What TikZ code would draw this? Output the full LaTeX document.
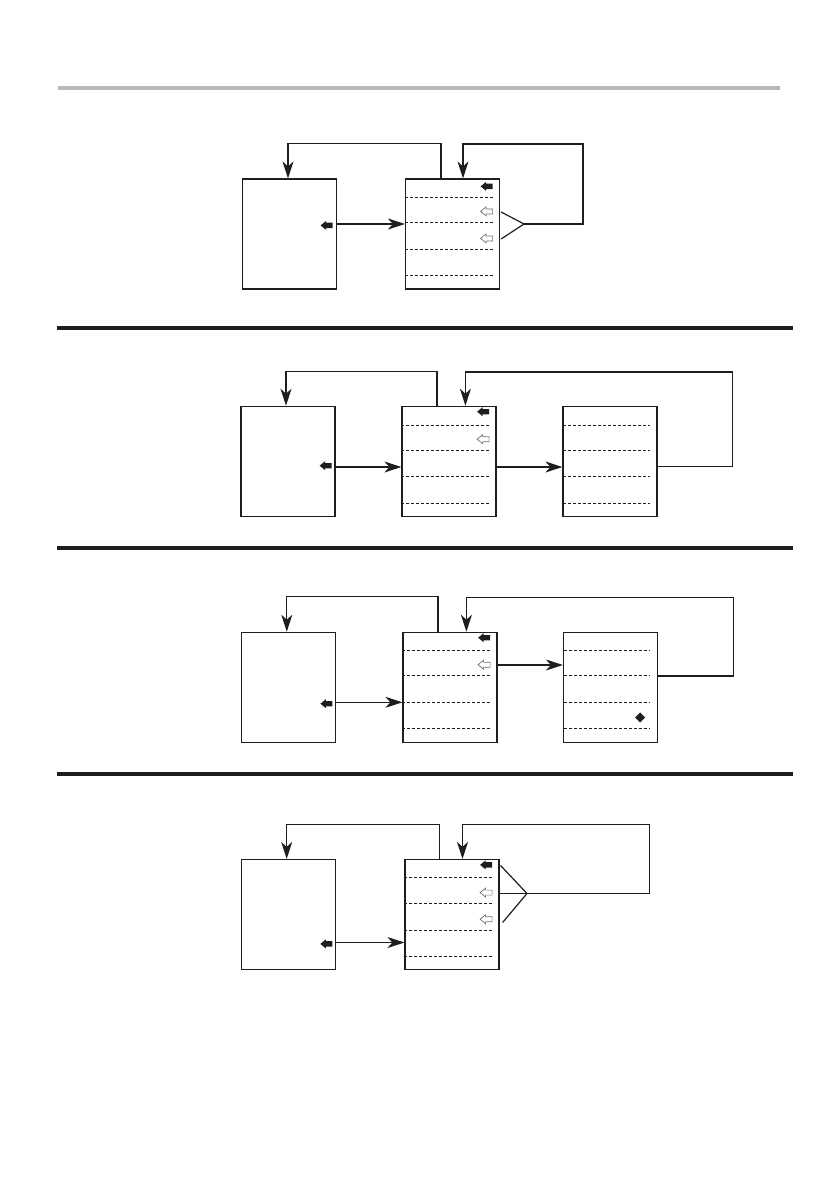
\documentclass[tikz,border=0pt]{standalone}
\usepackage{tikz}
\usetikzlibrary{arrows.meta}
\usepackage{xcolor}
\definecolor{InkBlack}{RGB}{30,30,30}
\definecolor{RuleGray}{RGB}{184,184,184}
\definecolor{MarkGray}{RGB}{110,110,110}

\begin{document}
\begin{tikzpicture}[
x=1pt,y=-1pt,
box/.style={
    rectangle,
    draw=InkBlack,
    line width=1.2pt,
    minimum width=94pt,
    minimum height=110pt,
    inner sep=0pt
},
rowline/.style={dash pattern=on 3pt off 2pt,line width=0.9pt,draw=InkBlack},
link/.style={line width=1.2pt,draw=InkBlack},
arrow/.style={-{Stealth[length=17pt,width=11pt,inset=5pt]},line width=1.2pt,draw=InkBlack},
graybar/.style={line width=3.5pt,draw=RuleGray},
blackbar/.style={line width=4pt,draw=InkBlack},
blkmark/.pic={\fill[InkBlack] (-6,0) -- (-0.5,-4.5) -- (-0.5,-2.7) -- (6,-2.7) -- (6,2.7) -- (-0.5,2.7) -- (-0.5,4.5) -- cycle;},
hollowmark/.pic={\draw[fill=white,draw=MarkGray,line width=0.7pt] (-6,0) -- (-0.5,-4.5) -- (-0.5,-2.5) -- (6,-2.5) -- (6,2.5) -- (-0.5,2.5) -- (-0.5,4.5) -- cycle;},
diamark/.pic={\fill[InkBlack] (0,-5) -- (5,0) -- (0,5) -- (-5,0) -- cycle;}
]
\useasboundingbox (0,0) rectangle (839,1191);

\draw[graybar] (58,88) -- (780,88);
\draw[blackbar] (57,328) -- (793,328);
\draw[blackbar] (57,548) -- (793,548);
\draw[blackbar] (57,774) -- (793,774);

% panel 1
\node[box] (a1) at (289.5,234) {};
\node[box] (b1) at (452.5,234) {};
\coordinate (k1) at (524,224);
\foreach \d in {19,44,71,97}
  \draw[rowline] ([yshift=-\d pt]b1.north west) -- ([xshift=-7pt,yshift=-\d pt]b1.north east);
\pic at ([xshift=-10.5pt,yshift=-47pt]a1.north east) {blkmark};
\pic at ([xshift=-13.5pt,yshift=-8pt]b1.north east) {blkmark};
\pic at ([xshift=-13.5pt,yshift=-33pt]b1.north east) {hollowmark};
\pic at ([xshift=-13.5pt,yshift=-60pt]b1.north east) {hollowmark};

\draw[arrow] ([yshift=10pt]a1.east) -- ([yshift=10pt]b1.west);
\draw[arrow] ([xshift=-11.5pt]b1.north) -- ++(0,-35) -| ([xshift=-1.5pt]a1.north);
\draw[link] ([xshift=1pt,yshift=22pt]b1.east) -- (k1) -- ([xshift=1pt,yshift=-5pt]b1.east);
\draw[arrow] (k1) -- ++(59,0) -- ++(0,-80) -| ([xshift=10.5pt]b1.north);

% panel 2
\node[box] (a2) at (288,461.3) {};
\node[box] (b2) at (449,461.3) {};
\node[box] (c2) at (610,461.3) {};
\foreach \d in {19.5,44.5,70.5,97.5}{
  \draw[rowline] ([yshift=-\d pt]b2.north west) -- ([xshift=-8pt,yshift=-\d pt]b2.north east);
  \draw[rowline] ([xshift=1pt,yshift=-\d pt]c2.north west) -- ([xshift=-8pt,yshift=-\d pt]c2.north east);
}
\pic at ([xshift=-10pt,yshift=-60pt]a2.north east) {blkmark};
\pic at ([xshift=-13.5pt,yshift=-6pt]b2.north east) {blkmark};
\pic at ([xshift=-13.5pt,yshift=-33.5pt]b2.north east) {hollowmark};

\draw[arrow] ([yshift=-5.7pt]a2.east) -- ([yshift=-5.7pt]b2.west);
\draw[arrow] ([yshift=-5.7pt]b2.east) -- ([yshift=-5.7pt]c2.west);
\draw[arrow] ([xshift=-12pt]b2.north) -- ++(0,-34.5) -| ([xshift=-2pt]a2.north);
\draw[arrow] ([yshift=-5.4pt]c2.east) -- ++(75,0) -- ++(0,-94.7) -| ([xshift=16.4pt]b2.north);

% panel 3
\node[box] (a3) at (288.8,687.3) {};
\node[box] (b3) at (450,687.3) {};
\node[box] (c3) at (610.5,687.3) {};
\foreach \d in {19,44,71,97}{
  \draw[rowline] ([yshift=-\d pt]b3.north west) -- ([xshift=-8pt,yshift=-\d pt]b3.north east);
  \draw[rowline] ([xshift=1pt,yshift=-\d pt]c3.north west) -- ([xshift=-8pt,yshift=-\d pt]c3.north east);
}
\pic at ([xshift=-10pt,yshift=-72pt]a3.north east) {blkmark};
\pic at ([xshift=-13.5pt,yshift=-6pt]b3.north east) {blkmark};
\pic at ([xshift=-13.5pt,yshift=-33pt]b3.north east) {hollowmark};
\pic at ([xshift=-18pt,yshift=-85.7pt]c3.north east) {diamark};

\draw[arrow] ([yshift=-15pt]a3.east) -- ([yshift=-15pt]b3.west);
\draw[arrow] ([yshift=22.3pt]b3.east) -- ([yshift=22.3pt]c3.west);
\draw[arrow] ([xshift=-12pt]b3.north) -- ++(0,-35) -| ([xshift=-2pt]a3.north);
\draw[arrow] ([yshift=11.3pt]c3.east) -- ++(75,0) -- ++(0,-78.7) -| ([xshift=16.4pt]b3.north);

% panel 4
\node[box] (a4) at (288.7,914.5) {};
\node[box] (b4) at (452,914.5) {};
\coordinate (k4) at (527,893.5);
\foreach \d in {19,44.3,71.3,97.3}
  \draw[rowline] ([yshift=-\d pt]b4.north west) -- ([xshift=-8pt,yshift=-\d pt]b4.north east);
\pic at ([xshift=-10pt,yshift=-85pt]a4.north east) {blkmark};
\pic at ([xshift=-13.5pt,yshift=-6pt]b4.north east) {blkmark};
\pic at ([xshift=-13.5pt,yshift=-33.7pt]b4.north east) {hollowmark};
\pic at ([xshift=-13.5pt,yshift=-60.3pt]b4.north east) {hollowmark};

\draw[arrow] ([yshift=-28pt]a4.east) -- ([yshift=-28pt]b4.west);
\draw[arrow] ([xshift=-12.5pt]b4.north) -- ++(0,-34.5) -| ([xshift=-2pt]a4.north);
\draw[link] ([xshift=1pt,yshift=49pt]b4.east) -- (k4) -- ([xshift=3pt,yshift=-8pt]b4.east);
\draw[arrow] ([yshift=21pt]b4.east) -- (k4) -- ++(122.3,0) -- ++(0,-69) -| ([xshift=10.5pt]b4.north);

\end{tikzpicture}
\end{document}
